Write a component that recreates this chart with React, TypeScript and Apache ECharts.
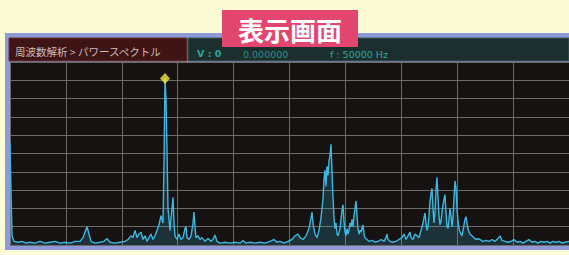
import React, { useEffect, useRef } from "react";
import * as echarts from "echarts";

// frequency bins (0..559 over 10 divisions) and amplitude (divisions 0..10)
const freqs = [
  0, 1, 2, 4, 8, 12, 16, 20, 25, 30, 35, 40, 45, 50, 55, 60, 65, 70, 73, 75, 77, 79, 81, 85, 90, 94, 97, 100, 105, 110,
  115, 118, 121, 123, 125, 127, 129, 131, 133, 135, 137, 139, 141, 143, 145, 147, 149, 151, 153, 154, 155, 156, 157, 158,
  159, 160, 161, 162, 163, 164, 165, 167, 169, 171, 173, 175, 176, 177, 179, 181, 183, 184, 185, 186, 188, 190, 192, 195,
  198, 201, 203, 205, 207, 210, 215, 220, 225, 230, 233, 236, 240, 245, 250, 255, 260, 264, 267, 270, 274, 278, 282, 285,
  288, 290, 293, 296, 299, 301, 302, 303, 305, 307, 309, 311, 313, 314, 315, 316, 317, 318, 319, 320, 321, 322, 323, 324,
  325, 326, 327, 328, 330, 331, 332, 333, 334, 335, 336, 337, 338, 339, 340, 341, 342, 343, 344, 345, 346, 347, 348, 349,
  350, 351, 352, 353, 354, 355, 357, 359, 362, 365, 368, 371, 374, 376, 377, 378, 380, 383, 386, 389, 392, 394, 396, 398,
  400, 401, 403, 405, 407, 409, 411, 413, 414, 415, 416, 417, 418, 419, 420, 421, 422, 423, 424, 425, 426, 427, 428, 429,
  430, 431, 432, 433, 434, 435, 436, 437, 438, 439, 440, 441, 442, 443, 444, 445, 446, 447, 448, 449, 450, 451, 452, 453,
  454, 455, 456, 457, 458, 459, 460, 462, 464, 466, 468, 470, 473, 476, 479, 482, 485, 488, 490, 492, 495, 498, 501, 504,
  507, 510, 513, 516, 519, 522, 525, 528, 531, 534, 537, 540, 543, 546, 549, 552, 555, 559,
];
const amps = [
  5.6, 3.0, 0.5, 0.2, 0.15, 0.2, 0.1, 0.15, 0.1, 0.2, 0.1, 0.15, 0.2, 0.1, 0.15, 0.1, 0.2, 0.2, 0.4, 0.7, 1.0, 0.6, 0.2, 0.1, 0.15, 0.2, 0.35, 0.15, 0.1, 0.15,
  0.2, 0.3, 0.5, 0.4, 0.8, 0.4, 0.6, 0.7, 0.3, 0.5, 0.2, 0.4, 0.6, 0.3, 0.5, 0.8, 1.1, 1.6, 1.2, 4.5, 9.1, 8.0, 5.2, 2.0,
  1.4, 0.8, 1.5, 2.0, 2.6, 1.2, 0.5, 0.3, 0.6, 0.3, 0.4, 0.9, 1.0, 0.4, 0.3, 0.5, 1.2, 1.8, 1.0, 0.4, 0.5, 0.3, 0.4, 0.2,
  0.35, 0.2, 0.3, 0.55, 0.2, 0.1, 0.15, 0.1, 0.15, 0.1, 0.25, 0.1, 0.15, 0.1, 0.15, 0.1, 0.2, 0.3, 0.15, 0.2, 0.1, 0.2, 0.3, 0.5,
  0.6, 0.4, 0.3, 0.5, 0.9, 1.5, 1.8, 1.2, 0.6, 0.4, 0.8, 1.5, 2.5, 3.6, 4.1, 3.2, 4.3, 3.8, 4.6, 4.9, 5.5, 4.0, 2.6, 1.5,
  0.9, 1.2, 0.6, 0.5, 0.9, 1.4, 1.9, 2.2, 1.3, 0.7, 0.5, 0.9, 0.6, 0.8, 1.2, 1.0, 1.4, 1.0, 1.6, 2.0, 2.4, 1.6, 0.9, 0.6,
  0.8, 0.7, 0.9, 1.1, 0.6, 0.4, 0.3, 0.2, 0.25, 0.15, 0.2, 0.3, 0.2, 0.4, 0.6, 0.3, 0.2, 0.15, 0.2, 0.3, 0.4, 0.6, 0.3, 0.5,
  0.7, 0.4, 0.3, 0.6, 0.5, 0.4, 0.8, 1.2, 1.5, 1.75, 1.2, 0.8, 1.0, 1.6, 2.4, 2.8, 3.1, 2.0, 1.2, 1.8, 3.0, 3.7, 2.6, 1.6,
  1.1, 1.3, 1.8, 2.2, 2.5, 2.75, 1.8, 1.0, 0.9, 1.4, 2.0, 1.6, 1.0, 1.5, 2.6, 3.5, 3.1, 2.0, 1.3, 0.9, 0.7, 0.6, 0.5, 0.8,
  1.1, 1.4, 1.55, 1.2, 0.9, 0.7, 0.6, 0.5, 0.4, 0.3, 0.35, 0.3, 0.2, 0.25, 0.2, 0.3, 0.2, 0.35, 0.5, 0.25, 0.2, 0.15,
  0.2, 0.3, 0.15, 0.2, 0.1, 0.2, 0.3, 0.15, 0.2, 0.1, 0.2, 0.15, 0.2, 0.1, 0.2, 0.15, 0.2, 0.1, 0.15, 0.2,
];
const peakFreq = 155;
const peakAmp = 9.1;

const headerLeft = "周波数解析 > パワースペクトル";
const headerV = "V : 0";
const headerVal = "0.000000";
const headerF = "f : 50000 Hz";
const badge = "表示画面";

export default function App() {
  const ref = useRef<HTMLDivElement>(null);
  useEffect(() => {
    if (!ref.current) return;
    const chart = echarts.init(ref.current, null, { renderer: "svg" });
    const data = freqs.map((f, i) => [f, amps[i]]);
    chart.setOption({
      animation: false,
      backgroundColor: "#fdfbd5",
      grid: { left: 10, top: 62, right: 0, bottom: 10, backgroundColor: "#161212", show: true, borderWidth: 0 },
      xAxis: {
        type: "value",
        min: 0,
        max: 559,
        interval: 55.9,
        axisLine: { show: false },
        axisTick: { show: false },
        axisLabel: { show: false },
        splitLine: { show: true, lineStyle: { color: "#6e6a6a", width: 1 } },
      },
      yAxis: {
        type: "value",
        min: 0,
        max: 10,
        interval: 1,
        axisLine: { show: false },
        axisTick: { show: false },
        axisLabel: { show: false },
        splitLine: { show: true, lineStyle: { color: "#6e6a6a", width: 1 } },
      },
      series: [
        {
          type: "line",
          data,
          symbol: "none",
          z: 3,
          lineStyle: { color: "#3cb8e0", width: 1.4 },
          areaStyle: { color: "rgba(60,180,220,0.28)" },
        },
        {
          type: "scatter",
          data: [[peakFreq, peakAmp]],
          symbol: "diamond",
          symbolSize: [10, 11],
          z: 4,
          itemStyle: { color: "#f2ea3a" },
        },
      ],
      graphic: [
        { type: "rect", z: -1, shape: { x: 5, y: 33, width: 564, height: 217 }, style: { fill: "#8e9bd8" } },
        { type: "rect", shape: { x: 9, y: 38, width: 178, height: 23 }, style: { fill: "#3e1414", stroke: "#6a3434", lineWidth: 1 } },
        { type: "rect", shape: { x: 188, y: 38, width: 381, height: 23 }, style: { fill: "#1c2f2e", stroke: "#3f5a58", lineWidth: 1 } },
        { type: "text", x: 15, y: 51, style: { text: headerLeft, fill: "#cdbcbc", fontSize: 10.5, fontFamily: "Noto Sans CJK JP", verticalAlign: "middle" } },
        { type: "text", x: 197, y: 53, style: { text: headerV, fill: "#2fa79b", fontSize: 9.5, fontWeight: "bold", fontFamily: "DejaVu Sans", verticalAlign: "middle" } },
        { type: "text", x: 243, y: 54, style: { text: headerVal, fill: "#2a8f86", fontSize: 9.5, fontFamily: "DejaVu Sans", verticalAlign: "middle" } },
        { type: "text", x: 330, y: 54, style: { text: headerF, fill: "#2fa79b", fontSize: 9.5, fontFamily: "DejaVu Sans", verticalAlign: "middle" } },
        { type: "rect", shape: { x: 222, y: 10, width: 136, height: 37 }, style: { fill: "#e2466f" } },
        { type: "text", x: 290, y: 29, style: { text: badge, fill: "#ffffff", fontSize: 26, fontWeight: "bold", fontFamily: "Noto Sans CJK JP", align: "center", verticalAlign: "middle" } },
      ],
    });
    return () => chart.dispose();
  }, []);
  return <div ref={ref} style={{ position: "fixed", left: 0, top: 0, width: 569, height: 255 }} />;
}
